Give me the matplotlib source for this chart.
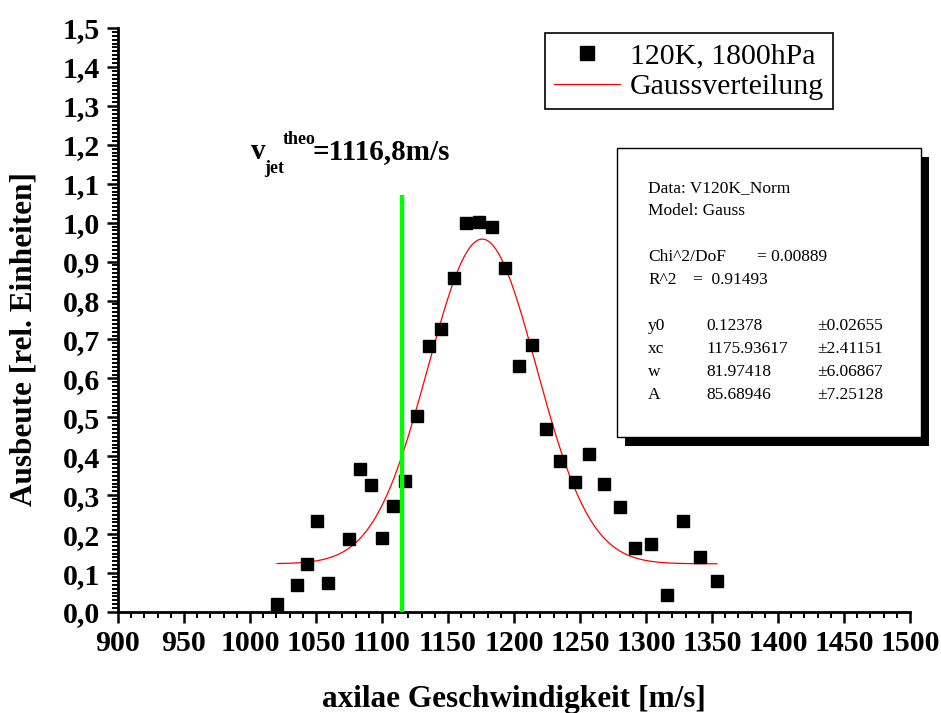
# coding: utf-8
import numpy as np
import matplotlib
matplotlib.use("Agg")
import matplotlib.pyplot as plt
from matplotlib.patches import Rectangle
from matplotlib.ticker import MultipleLocator, FuncFormatter

plt.rcParams['font.family'] = 'Liberation Serif'

# measured points (axial speed in m/s, relative yield)
speed = [1020.5, 1035.4, 1043.5, 1051.1, 1058.9, 1075.0, 1083.1, 1091.7,
         1100.3, 1108.6, 1117.7, 1126.5, 1135.9, 1145.0, 1154.3, 1163.9,
         1173.5, 1183.3, 1193.5, 1203.8, 1213.9, 1224.5, 1235.0, 1246.2,
         1257.1, 1268.5, 1280.1, 1291.7, 1303.6, 1315.7, 1328.3, 1340.9,
         1353.8]
ausbeute = [0.021, 0.069, 0.123, 0.233, 0.075, 0.188, 0.368, 0.325,
            0.191, 0.272, 0.337, 0.504, 0.684, 0.728, 0.858, 0.999,
            1.002, 0.989, 0.883, 0.633, 0.687, 0.470, 0.389, 0.333,
            0.405, 0.328, 0.270, 0.164, 0.175, 0.043, 0.234, 0.141,
            0.080]

# gauss fit parameters (from the fit report)
y0, xc, w, A = 0.12378, 1175.93617, 81.97418, 85.68946
v_line = 1115.0      # where the green marker sits
v_line_top = 1.07

fit_lines = [
    ("Data: V120K_Norm", None, None),
    ("Model: Gauss", None, None),
    None,
    ("Chi^2/DoF", "= 0.00889", None),
    ("R^2", "=  0.91493", None),
    None,
    ("y0", "0.12378", "\u00b10.02655"),
    ("xc", "1175.93617", "\u00b12.41151"),
    ("w", "81.97418", "\u00b16.06867"),
    ("A", "85.68946", "\u00b17.25128"),
]

W, H = 941, 713
fig = plt.figure(figsize=(W / 100, H / 100), dpi=100)
ax = fig.add_axes([118 / W, 1 - 612 / H, 792 / W, 584 / H])

xs = np.linspace(min(speed), max(speed), 400)
ys = y0 + A / (w * np.sqrt(np.pi / 2)) * np.exp(-2 * ((xs - xc) / w) ** 2)

ax.plot(speed, ausbeute, 's', color='black', markersize=9, label='120K, 1800hPa', zorder=3)
ax.plot(xs, ys, '-', color='red', linewidth=0.9, label='Gaussverteilung', zorder=2)
ax.vlines(v_line, 0, v_line_top, color='#00ff00', linewidth=3.2, zorder=4)

ax.set_xlim(900, 1500)
ax.set_ylim(0, 1.5)
ax.xaxis.set_major_locator(MultipleLocator(50))
ax.xaxis.set_minor_locator(MultipleLocator(10))
ax.yaxis.set_major_locator(MultipleLocator(0.1))
ax.yaxis.set_minor_locator(MultipleLocator(0.01))
ax.yaxis.set_major_formatter(FuncFormatter(lambda v, p: f"{v:.1f}".replace('.', ',')))

for s in ['top', 'right']:
    ax.spines[s].set_visible(False)
for s in ['left', 'bottom']:
    ax.spines[s].set_linewidth(2.0)
ax.tick_params(which='major', direction='out', length=8, width=1.8, pad=5)
ax.tick_params(which='minor', direction='out', length=4.5, width=1.4)
for lab in ax.get_xticklabels() + ax.get_yticklabels():
    lab.set_fontsize(21.5)
    lab.set_fontweight('bold')

ax.set_xlabel('axilae Geschwindigkeit [m/s]', fontsize=22.5, fontweight='bold')
ax.set_ylabel('Ausbeute [rel. Einheiten]', fontsize=22.5, fontweight='bold')
ax.xaxis.set_label_coords(0.5, -0.125)
ax.yaxis.set_label_coords(-0.1, 0.467)

leg = ax.legend(loc='upper left', bbox_to_anchor=(0.539, 0.991), fontsize=21.5,
                fancybox=False, framealpha=1, edgecolor='black', borderaxespad=0,
                handlelength=2.2, handletextpad=0.35, labelspacing=0.15,
                borderpad=0.3, markerscale=1.1)
leg.get_frame().set_linewidth(1.2)


def fx(px):
    return px / W


def fy(py):
    return 1 - py / H


# v_jet^theo annotation
fig.text(fx(251), fy(159), 'v', fontsize=21, fontweight='bold', va='baseline')
fig.text(fx(264), fy(173), 'jet', fontsize=13, fontweight='bold', va='baseline')
fig.text(fx(283), fy(144), 'theo', fontsize=13, fontweight='bold', va='baseline')
fig.text(fx(313), fy(159), '=1116,8m/s', fontsize=21, fontweight='bold', va='baseline')

# fit report box with shadow
bx0, by0, bx1, by1 = 617, 148, 921, 437
fig.add_artist(Rectangle((fx(bx0 + 8), fy(by1 + 9)), fx(bx1 - bx0), (by1 - by0) / H,
                         transform=fig.transFigure, facecolor='black', edgecolor='none', zorder=5))
fig.add_artist(Rectangle((fx(bx0), fy(by1)), fx(bx1 - bx0), (by1 - by0) / H,
                         transform=fig.transFigure, facecolor='white', edgecolor='black',
                         linewidth=1.0, zorder=6))
row_y = 188
for line in fit_lines:
    if line is not None:
        a, b, c = line
        fig.text(fx(648), fy(row_y), a, fontsize=12.5, va='center', zorder=7)
        if b is not None:
            bx = 706
            if a == "Chi^2/DoF":
                bx = 757
            elif a == "R^2":
                bx = 693
            fig.text(fx(bx), fy(row_y), b, fontsize=12.5, va='center', zorder=7)
        if c is not None:
            fig.text(fx(817), fy(row_y), c, fontsize=12.5, va='center', zorder=7)
    row_y += 23

fig.savefig('out.png', dpi=100)
